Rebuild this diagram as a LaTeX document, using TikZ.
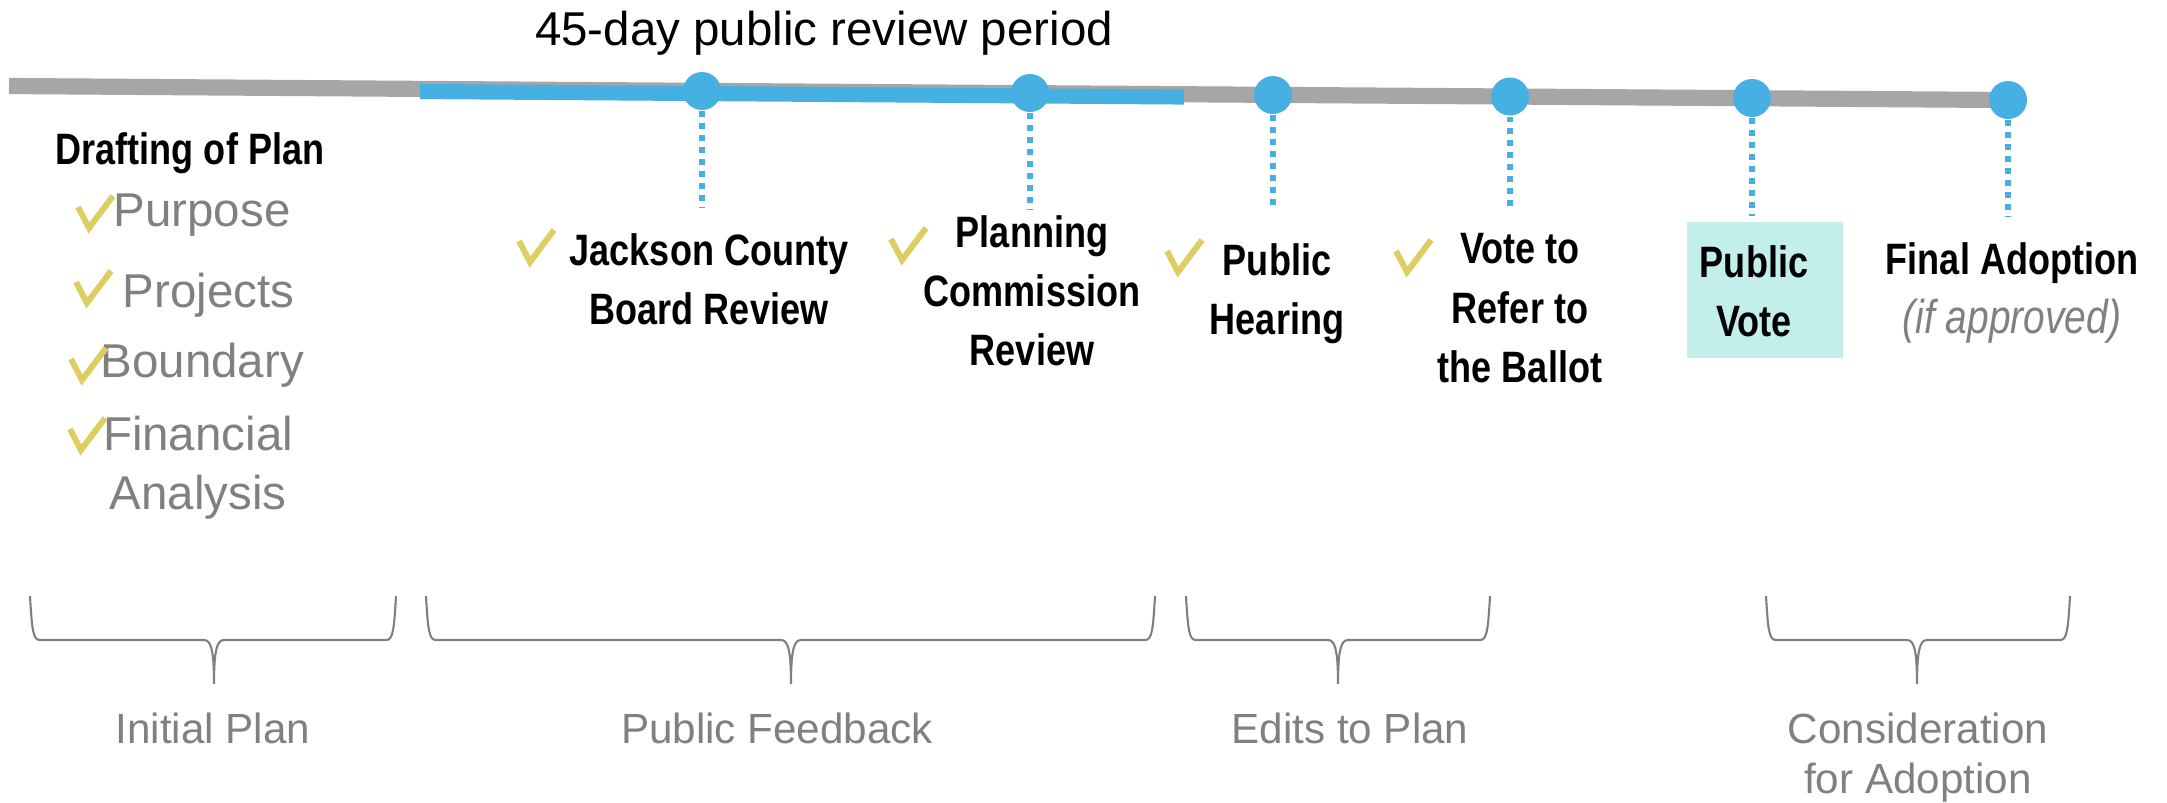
\documentclass[tikz,border=0pt]{standalone}
\usepackage{xcolor}
\usepackage{fontspec}
\setmainfont{Liberation Sans}
\newfontfamily\condfont[FakeStretch=0.82]{Liberation Sans}
\definecolor{lineblue}{RGB}{69,176,225}
\definecolor{linegray}{RGB}{166,166,166}
\definecolor{textgray}{RGB}{128,128,128}
\definecolor{tickyellow}{RGB}{222,205,96}
\definecolor{voteteal}{RGB}{194,239,234}

\begin{document}
\begin{tikzpicture}
            [x=0.01cm,y=-0.01cm,
             dot/.style={circle,fill=lineblue,inner sep=0pt,minimum size=0.38cm},
             dropline/.style={lineblue,line width=1.7pt,dash pattern=on 1.7pt off 1.7pt},
             event/.style={font=\condfont\bfseries\fontsize{12.5}{16.8}\selectfont,align=center,anchor=north,inner sep=0pt},
             item/.style={font=\fontsize{13.5}{16.8}\selectfont,text=textgray,inner sep=0pt},
             phase/.style={font=\fontsize{12}{14.2}\selectfont,text=textgray,align=center,anchor=north,inner sep=0pt},
             yestick/.style={draw=tickyellow,line width=1.7pt},
             bracket/.style={draw=textgray,line width=0.6pt}]
            \useasboundingbox (0,0) rectangle (2167,802);

            \coordinate (tlstart) at (9,86);
            \coordinate (tlend) at (2008,100);
            \coordinate (revstart) at (420,91.5);
            \coordinate (revend) at (1184,97);
            \draw[linegray,line width=4.6pt] (tlstart) -- (tlend);
            \draw[lineblue,line width=4.3pt] (revstart) -- (revend);

            \foreach \n/\x/\y/\e in {1/702/91/208, 2/1030/93/209, 3/1273/95/210,
                                     4/1510/96.5/210, 5/1752/98/216, 6/2008/100/217}
            {
              \coordinate (e\n) at (\x,\e);
              \draw[dropline] (\x,\y+20) -- (e\n);
              \node[dot] (d\n) at (\x,\y) {};
            }

            \node[anchor=base,inner sep=0pt,font=\fontsize{13.5}{16}\selectfont] (period) at (824,45) {45-day public review period};

            \node[event] (draft) at (190,132) {Drafting of Plan};
            \node[item,anchor=north west] (purpose) at (113,193) {Purpose};
            \node[item,anchor=north west] (projects) at (122,272) {Projects};
            \node[item,anchor=north west] (boundary) at (100,342) {Boundary};
            \node[item,anchor=north,align=center] (financial) at (198,415) {Financial\\Analysis};

            \node[event] (county) at (709,233) {Jackson County\\Board Review};
            \node[event] (commission) at (1032,215) {Planning\\Commission\\Review};
            \node[event] (hearing) at (1277,243) {Public\\Hearing};
            \node[event] (refer) at (1520,233) {Vote to\\Refer to\\the Ballot};
            \node[fill=voteteal,minimum width=1.55cm,minimum height=1.36cm,inner sep=0pt] (votebg) at (1765,290) {};
            \node[event] (vote) at (1754,245) {Public\\Vote};
            \node[event] (adoption) at (2012,242) {Final Adoption\\{\mdseries\itshape\fontsize{13.5}{16.8}\selectfont\color{textgray}(if approved)}};

            \foreach \x/\y in {75/193, 73/268, 68/345, 67/415, 516/227, 888/225, 1164/237, 1393/237}
              \draw[yestick] (\x+3,\y+14) -- (\x+14,\y+35) -- (\x+38,\y+3);

            \foreach \l/\m/\r in {30/214/396, 426/791/1155, 1186/1338/1490, 1766/1917/2070}
              \draw[bracket] (\l,596) .. controls (\l+2,630) and (\l+3,640) .. (\l+10,640)
                -- (\m-10,640) .. controls (\m-3,640) and (\m,650) .. (\m,684)
                .. controls (\m,650) and (\m+3,640) .. (\m+10,640)
                -- (\r-10,640) .. controls (\r-3,640) and (\r-2,630) .. (\r,596);

            \node[phase] (initial) at (213,712) {Initial Plan};
            \node[phase] (feedback) at (777,712) {Public Feedback};
            \node[phase] (edits) at (1350,712) {Edits to Plan};
            \node[phase] (consider) at (1918,712) {Consideration\\for Adoption};
          \end{tikzpicture}
\end{document}
